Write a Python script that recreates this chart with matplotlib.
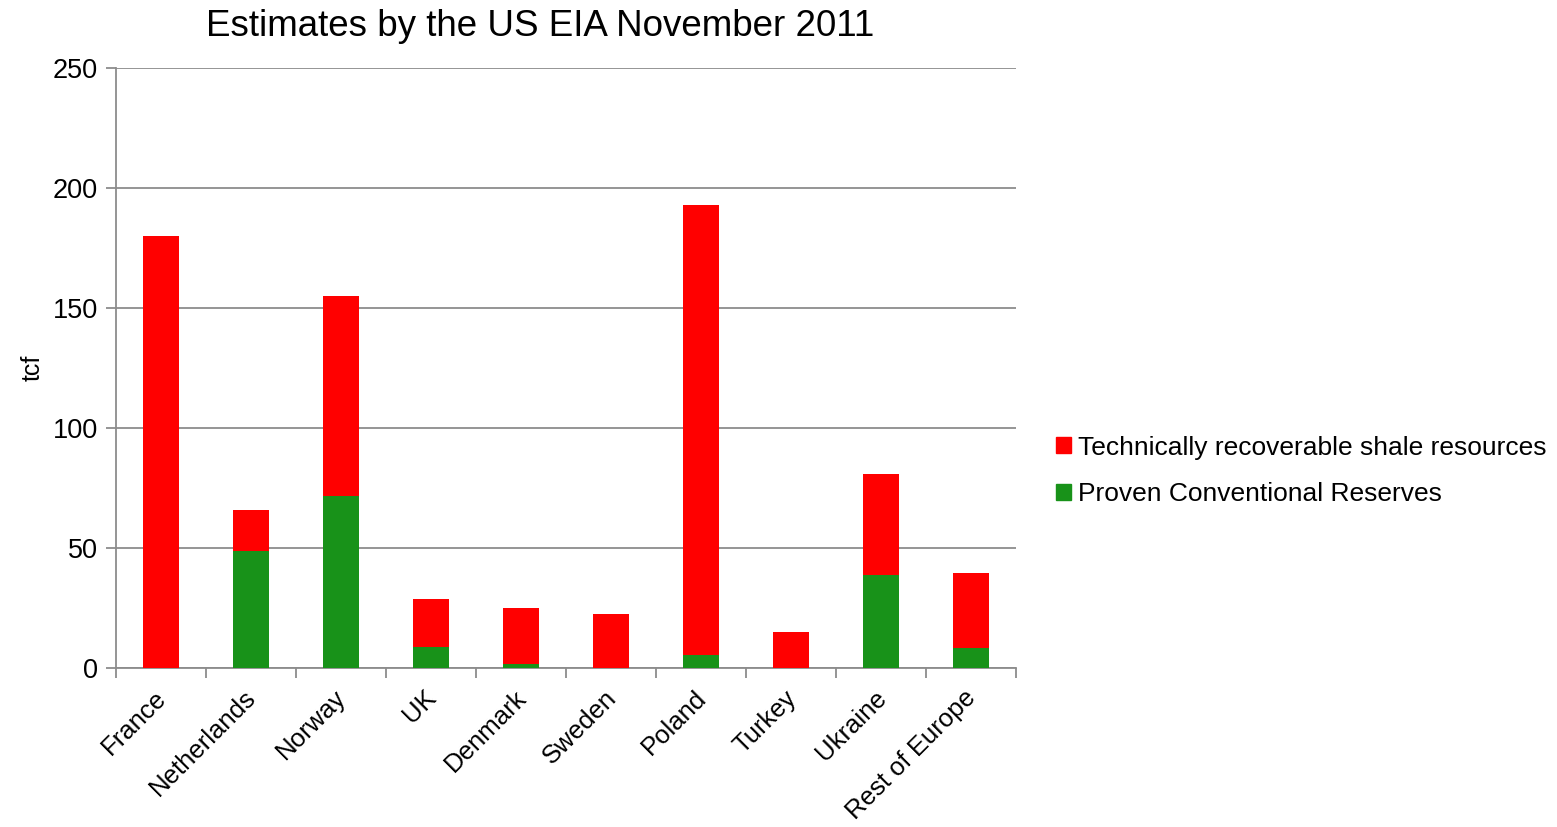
import matplotlib
matplotlib.use("Agg")
import matplotlib.pyplot as plt
import matplotlib.transforms as mtransforms
import numpy as np
from matplotlib.patches import Patch

categories = ["France", "Netherlands", "Norway", "UK", "Denmark", "Sweden",
              "Poland", "Turkey", "Ukraine", "Rest of Europe"]
proven = [0, 48.6, 71.6, 8.7, 1.7, 0, 5.3, 0, 38.6, 8.4]
totals = [180, 65.8, 155, 28.8, 24.9, 22.6, 193, 14.8, 80.8, 39.4]
shale = [t - p for t, p in zip(totals, proven)]
yticks = [0, 50, 100, 150, 200, 250]

plt.rcParams['font.family'] = ['Liberation Sans', 'DejaVu Sans']

fig = plt.figure(figsize=(15.57, 8.27), dpi=100)
ax = fig.add_axes([116/1557, 1 - 668/827, 900/1557, 600/827])

red = '#FF0000'
green = '#189219'
x = np.arange(len(categories))
ax.bar(x, proven, width=0.4, color=green, zorder=3)
ax.bar(x, shale, width=0.4, bottom=proven, color=red, zorder=3)

ax.set_xlim(-0.5, len(categories) - 0.5)
ax.set_ylim(0, 250)
ax.set_yticks(yticks)
ax.set_yticklabels([str(v) for v in yticks], fontsize=19.5)
ax.yaxis.grid(True, color='#8c8c8c', linewidth=1.3, zorder=0)

ax.set_xticks(x)
ax.set_xticklabels(categories, rotation=45, ha='right', va='top',
                   rotation_mode='anchor', fontsize=18.5)
ax.tick_params(axis='x', which='major', length=0, pad=12)
offset = mtransforms.ScaledTranslation(-7/100, -1/100, fig.dpi_scale_trans)
for lbl in ax.get_xticklabels():
    lbl.set_transform(lbl.get_transform() + offset)
ax.set_xticks(np.arange(-0.5, len(categories)), minor=True)
ax.tick_params(axis='x', which='minor', length=7, width=1.3, color='#8c8c8c')
ax.tick_params(axis='y', length=7, width=1.3, color='#8c8c8c', pad=6)

for s in ['top', 'right']:
    ax.spines[s].set_visible(False)
for s in ['left', 'bottom']:
    ax.spines[s].set_color('#8c8c8c')
    ax.spines[s].set_linewidth(1.3)

ax.set_ylabel('tcf', fontsize=18, labelpad=6)
fig.text(540/1557, 1 - 27/827, 'Estimates by the US EIA November 2011',
         fontsize=26.5, ha='center', va='center')

handles = [Patch(color=red, label='Technically recoverable shale resources'),
           Patch(color=green, label='Proven Conventional Reserves')]
fig.legend(handles=handles, loc='center left',
           bbox_to_anchor=(1056/1557, 1 - 471/827), frameon=False,
           fontsize=19, handlelength=0.55, handleheight=0.55,
           handletextpad=0.3, labelspacing=0.85, borderaxespad=0,
           borderpad=0)

fig.savefig('out.png', dpi=100)
